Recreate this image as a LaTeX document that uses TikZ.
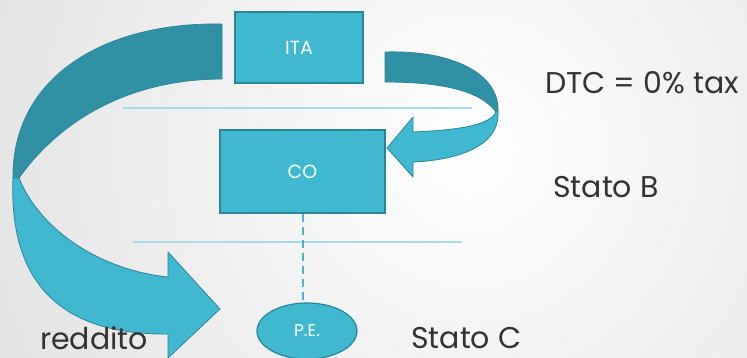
\documentclass[tikz,border=0pt]{standalone}
\usepackage{fontspec}
\setmainfont{Poppins}
\usetikzlibrary{shapes.geometric}
\definecolor{tealL}{HTML}{40B8D0}
\definecolor{tealD}{HTML}{3091A5}
\definecolor{tealB}{HTML}{2A8599}
\definecolor{lineC}{HTML}{A6DCE8}
\definecolor{txt}{HTML}{333333}
\tikzset{
  boxnode/.style={draw=tealB, line width=1.5pt, fill=tealL, text=white, inner sep=0pt, font=\fontsize{19}{21}\selectfont},
  band/.style={draw=tealB, line width=0.8pt, line join=round},
  sep/.style={draw=lineC, line width=1.5pt},
  lbl/.style={text=txt, inner sep=0pt, anchor=west, font=\fontsize{30}{34}\selectfont},
}
\begin{document}
\begin{tikzpicture}[x=1pt,y=-1pt]
\useasboundingbox (0,0) rectangle (747,358);
\begin{scope}
\clip (0,0) rectangle (747,358);
\shade[inner color=white, outer color=black!12] (470,150) circle (560);
\end{scope}
% separators
\draw[sep] (123,108) -- (472,108);
\draw[sep] (133,242) -- (462,242);
% nodes
\node[boxnode, minimum width=128, minimum height=71] (ita) at (299,47.5) {ITA};
\node[boxnode, minimum width=165, minimum height=83] (co) at (302.5,171.5) {CO};
\node[boxnode, ellipse, minimum width=100, minimum height=56, line width=1.2pt, font=\fontsize{17}{19}\selectfont] (pe) at (307,331) {P.E.};
\draw[tealL, line width=2pt, dash pattern=on 8pt off 5pt] (co.south -| 303,0) -- (pe.north -| 303,0);
% left ribbon arrow
\fill[tealD, band] (222,24) .. controls (100,22) and (12,80) .. (13,178)
  -- (19,178) .. controls (60,120) and (130,79) .. (222,79) -- cycle;
\fill[tealL, band] (13,178) .. controls (8,300) and (80,335) .. (168,334)
  -- (168,358) -- (220,309) -- (168,252) -- (168,277)
  .. controls (100,270) and (40,230) .. (19,178) -- cycle;
% right ribbon arrow
\fill[tealD, band] (385,52) .. controls (455,50) and (500,75) .. (498,112)
  -- (496,112) .. controls (480,90) and (440,82) .. (385,82) -- cycle;
\fill[tealL, band] (498,112) .. controls (500,145) and (460,160) .. (413,162)
  -- (413,177) -- (387,148) -- (413,117) -- (413,132)
  .. controls (460,130) and (490,125) .. (496,112) -- cycle;
% labels
\node[lbl] (dtc) at (545,83) {DTC = 0\% tax};
\node[lbl] (sb) at (553,187) {Stato B};
\node[lbl] (sc) at (411,338) {Stato C};
\node[lbl] (red) at (40,338) {reddito};
\end{tikzpicture}
\end{document}
